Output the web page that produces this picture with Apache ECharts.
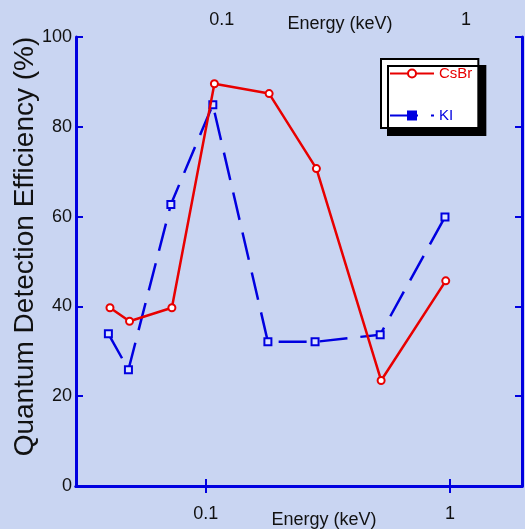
<!DOCTYPE html>
<html>
<head>
<meta charset="utf-8">
<script src="https://cdn.jsdelivr.net/npm/echarts@6/dist/echarts.min.js"></script>
<style>
html, body { margin: 0; padding: 0; background: #c9d5f2; }
#chart { width: 525px; height: 529px; }
</style>
</head>
<body>
<div id="chart"></div>
<script>
// values (energy in keV, efficiency in %)
const csbrEnergy = [0.0405, 0.0487, 0.0726, 0.1084, 0.1816, 0.2836, 0.522, 0.960];
const csbrQDE = [39.7, 36.7, 39.7, 89.6, 87.4, 70.7, 23.5, 45.7];
const kiEnergy = [0.0399, 0.0482, 0.0719, 0.1068, 0.1795, 0.280, 0.5174, 0.953];
const kiQDE = [33.9, 25.9, 62.7, 84.9, 32.1, 32.1, 33.7, 59.9];
const xTickLabels = [0.1, 1];

const red = "#e80000";
const blue = "#0000e0";
const font = "Liberation Sans, Arial, sans-serif";

function decadeLabel(v) {
    // only label 0.1 and 1
    for (const t of xTickLabels) {
        if (Math.abs(v - t) < t * 1e-6) return String(t);
    }
    return "";
}

const chart = echarts.init(document.getElementById("chart"));

const axisLine = { show: true, lineStyle: { color: blue, width: 3 } };
const axisTick = { show: true, inside: true, length: 7, lineStyle: { color: blue, width: 2 } };

const option = {
    backgroundColor: "#c9d5f2",
    animation: false,
    textStyle: { fontFamily: font },
    grid: { left: 76, top: 37, right: 3, bottom: 43, containLabel: false, outerBoundsMode: "none" },
    legend: {
        orient: "vertical",
        left: 381,
        top: 59,
        padding: [7, 6, 5, 8],
        itemWidth: 44,
        itemHeight: 10,
        itemGap: 27,
        backgroundColor: "#ffffff",
        borderColor: "#000000",
        borderWidth: 2,
        borderRadius: 0,
        shadowColor: "#000000",
        shadowBlur: 0,
        shadowOffsetX: 7,
        shadowOffsetY: 7,
        textStyle: { fontSize: 15, fontFamily: font },
        data: [
            { name: "CsBr", textStyle: { color: red } },
            { name: "KI", itemStyle: { color: blue, borderColor: blue }, textStyle: { color: blue } }
        ]
    },
    xAxis: [
        {
            type: "log", logBase: 10, position: "bottom",
            min: 0.0294, max: 1.97,
            axisLine: axisLine, axisTick: axisTick,
            minorTick: { show: false }, splitLine: { show: false },
            axisLabel: { color: "#111", fontSize: 18, margin: 19, formatter: decadeLabel, showMinLabel: false, showMaxLabel: false },
            name: "Energy (keV)", nameLocation: "middle", nameGap: 25, nameMoveOverlap: false,
            nameTextStyle: { color: "#111", fontSize: 18, padding: [0, 0, 0, 50] }
        },
        {
            type: "log", logBase: 10, position: "top",
            min: 0.0294, max: 1.97,
            axisLine: axisLine, axisTick: axisTick,
            minorTick: { show: false }, splitLine: { show: false },
            axisLabel: { color: "#111", fontSize: 18, margin: 8, formatter: decadeLabel, showMinLabel: false, showMaxLabel: false, padding: [0, 0, 0, 32] },
            name: "Energy (keV)", nameLocation: "middle", nameGap: 4, nameMoveOverlap: false,
            nameTextStyle: { color: "#111", fontSize: 18, padding: [0, 0, 0, 82] }
        }
    ],
    yAxis: [
        {
            type: "value", position: "left", min: 0, max: 100, interval: 20,
            axisLine: axisLine, axisTick: axisTick, splitLine: { show: false },
            axisLabel: { color: "#111", fontSize: 18, margin: 4 },
            name: "Quantum Detection Efficiency (%)", nameLocation: "middle", nameGap: 37, nameMoveOverlap: false,
            nameTextStyle: { color: "#111", fontSize: 28, padding: [0, 0, 0, 30] }
        },
        {
            type: "value", position: "right", min: 0, max: 100, interval: 20,
            axisLine: axisLine, axisTick: axisTick, splitLine: { show: false },
            axisLabel: { show: false }
        }
    ],
    series: [
        {
            name: "CsBr", type: "line",
            data: csbrEnergy.map((e, i) => [e, csbrQDE[i]]),
            symbol: "emptyCircle", symbolSize: 7,
            lineStyle: { color: red, width: 2.5 },
            itemStyle: { color: red, borderWidth: 2 },
            z: 3
        },
        {
            name: "KI", type: "line",
            data: kiEnergy.map((e, i) => [e, kiQDE[i]]),
            symbol: "rect", symbolSize: 7,
            lineStyle: { color: blue, width: 2.5, type: [28, 13] },
            itemStyle: { color: "#dde4ff", borderColor: blue, borderWidth: 2 },
            z: 2
        }
    ]
};
chart.setOption(option);
</script>
</body>
</html>
